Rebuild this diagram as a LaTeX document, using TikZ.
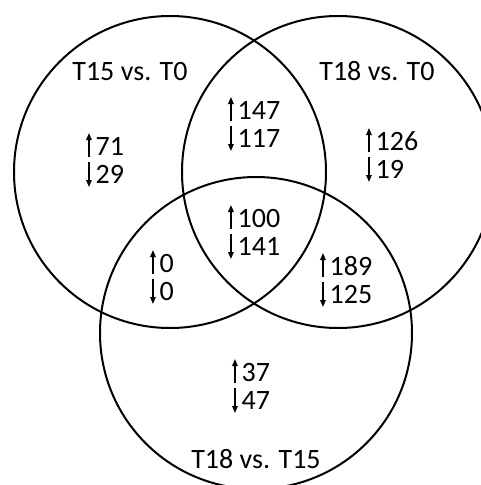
\documentclass[tikz,border=0pt]{standalone}
\usepackage{fontspec}
\setmainfont{Carlito}
\usetikzlibrary{arrows.meta}
\newcommand{\uparr}{\tikz[baseline=0pt]\draw[line width=1.4pt,-{Triangle[length=7pt,width=5.5pt]}] (0pt,-2pt) -- (0pt,22pt);\kern4pt}
\newcommand{\dnarr}{\tikz[baseline=0pt]\draw[line width=1.4pt,-{Triangle[length=7pt,width=5.5pt]}] (0pt,21pt) -- (0pt,-4pt);\kern4pt}

\begin{document}
\begin{tikzpicture}[x=1pt,y=-1pt,
    set/.style={draw,circle,line width=2pt,minimum size=312pt,inner sep=0pt},
    count/.style={anchor=west,align=left,inner sep=0pt,font=\fontsize{28}{28}\selectfont},
    lbl/.style={anchor=base,inner sep=0pt,font=\fontsize{28}{28}\selectfont}]
                \useasboundingbox (0,0) rectangle (481,485);
                \node[set] (t15) at (170,172) {};
                \node[set] (t18) at (338,172) {};
                \node[set] (t1815) at (256,333) {};
                \node[lbl] (t15lbl) at (130,80) {T15 vs. T0};
                \node[lbl] (t18lbl) at (377,80) {T18 vs. T0};
                \node[lbl] (t1815lbl) at (256,468) {T18 vs. T15};
                \node[count] (only15) at (86,160) {\uparr71\\\dnarr29};
                \node[count] (only18) at (366,155) {\uparr126\\\dnarr19};
                \node[count] (only1815) at (232,386) {\uparr37\\\dnarr47};
                \node[count] (both) at (228,124) {\uparr147\\\dnarr117};
                \node[count] (left) at (150,277) {\uparr0\\\dnarr0};
                \node[count] (right) at (320,280) {\uparr189\\\dnarr125};
                \node[count] (all) at (228,232) {\uparr100\\\dnarr141};
            \end{tikzpicture}
\end{document}
